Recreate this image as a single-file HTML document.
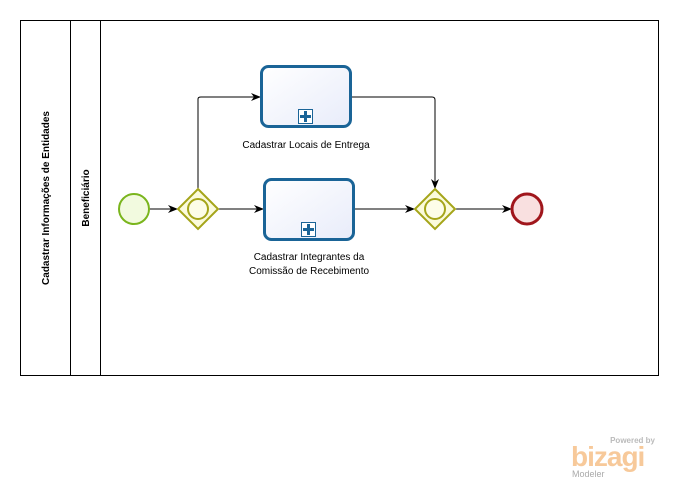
<!DOCTYPE html>
<html><head><meta charset="utf-8"><style>
body{margin:0;background:#fff;width:678px;height:488px;overflow:hidden;font-family:"Liberation Sans",sans-serif;}
</style></head><body>
<svg width="678" height="488" xmlns="http://www.w3.org/2000/svg">
<defs>
<marker id="a" markerWidth="10" markerHeight="10" refX="9" refY="5" orient="auto" markerUnits="userSpaceOnUse"><path d="M0,1 L10,5 L0,9 L3,5 Z" fill="#000"/></marker>
<linearGradient id="tg" x1="0" y1="0" x2="1" y2="1"><stop offset="0" stop-color="#fff"/><stop offset="1" stop-color="#e8ecfa"/></linearGradient>
</defs>
<rect x="20.5" y="20.5" width="638" height="355" fill="#fff" stroke="#000"/>
<line x1="70.5" y1="20" x2="70.5" y2="375" stroke="#000"/>
<line x1="100.5" y1="20" x2="100.5" y2="375" stroke="#000"/>
<text transform="translate(49,198) rotate(-90)" text-anchor="middle" font-size="10" font-weight="bold">Cadastrar Informações de Entidades</text>
<text transform="translate(89,198) rotate(-90)" text-anchor="middle" font-size="10" font-weight="bold">Beneficiário</text>
<!-- flows -->
<g stroke="#000" fill="none" stroke-width="1">
<line x1="149" y1="209" x2="177" y2="209" marker-end="url(#a)"/>
<path d="M198,189 V99 Q198,97 201,97 H260" marker-end="url(#a)"/>
<line x1="218" y1="209" x2="263" y2="209" marker-end="url(#a)"/>
<path d="M351,97 H432 Q435,97 435,100 V188" marker-end="url(#a)"/>
<line x1="354" y1="209" x2="414" y2="209" marker-end="url(#a)"/>
<line x1="455" y1="209" x2="511" y2="209" marker-end="url(#a)"/>
</g>
<!-- start -->
<circle cx="134" cy="209" r="15" fill="#f2fadf" stroke="#7ab51d" stroke-width="2"/>
<!-- gateways -->
<g fill="#fbfbdc" stroke="#a5a51a" stroke-width="2">
<path d="M198,189 L218,209 L198,229 L178,209 Z"/>
<circle cx="198" cy="209" r="10" fill="#fdfde8"/>
<path d="M435,189 L455,209 L435,229 L415,209 Z"/>
<circle cx="435" cy="209" r="10" fill="#fdfde8"/>
</g>
<!-- end -->
<circle cx="527" cy="209" r="15" fill="#f9e0e0" stroke="#a0161c" stroke-width="3"/>
<!-- tasks -->
<g stroke="#1a6497" stroke-width="3" fill="url(#tg)">
<rect x="261.5" y="66.5" width="89" height="60" rx="7"/>
<rect x="264.5" y="179.5" width="89" height="60" rx="7"/>
</g>
<g fill="#fff" stroke="#1a6497" stroke-width="1">
<rect x="298.5" y="109.5" width="14" height="14"/>
<rect x="301.5" y="222.5" width="14" height="14"/>
</g>
<g fill="#1a6497">
<rect x="300" y="115" width="11" height="3"/><rect x="304" y="111" width="3" height="11"/>
<rect x="303" y="228" width="11" height="3"/><rect x="307" y="224" width="3" height="11"/>
</g>
<g font-size="10" text-anchor="middle" fill="#000">
<text x="306" y="148">Cadastrar Locais de Entrega</text>
<text x="309" y="260">Cadastrar Integrantes da</text>
<text x="309" y="274">Comissão de Recebimento</text>
</g>
<!-- logo -->
<text x="655" y="443" text-anchor="end" font-size="8" font-weight="bold" fill="#bbb">Powered by</text>
<text x="571" y="466" font-size="28" font-weight="bold" fill="#f7c99a" letter-spacing="-1">bizagi</text>
<text x="572" y="477" font-size="9" fill="#aaa">Modeler</text>
</svg>
</body></html>
